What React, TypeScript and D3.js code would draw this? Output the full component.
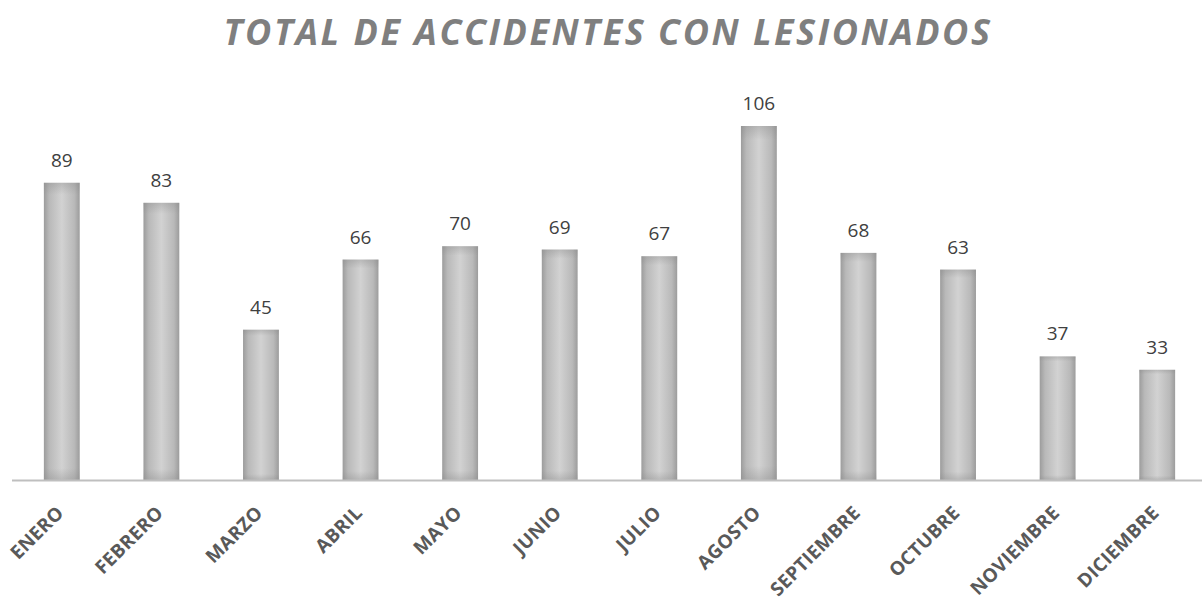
import * as d3 from "d3";

const months = ["ENERO", "FEBRERO", "MARZO", "ABRIL", "MAYO", "JUNIO", "JULIO", "AGOSTO", "SEPTIEMBRE", "OCTUBRE", "NOVIEMBRE", "DICIEMBRE"];
const totals = [89, 83, 45, 66, 70, 69, 67, 106, 68, 63, 37, 33];

const W = 1202;
const H = 602;

export default function App() {
  const baseY = 480;
  const x = d3.scaleBand<string>().domain(months).range([12, 1207]).paddingInner(0.64).paddingOuter(0.32);
  const y = d3.scaleLinear().domain([0, 106]).range([baseY, 126]);

  return (
    <svg width={W} height={H} style={{ position: "absolute", left: 0, top: 0, background: "#fff" }}>
      <defs>
        <linearGradient id="barH" x1="0" x2="1" y1="0" y2="0">
          <stop offset="0" stopColor="#9c9c9c" />
          <stop offset="0.15" stopColor="#b9b9b9" />
          <stop offset="0.5" stopColor="#d2d2d2" />
          <stop offset="0.85" stopColor="#b9b9b9" />
          <stop offset="1" stopColor="#9c9c9c" />
        </linearGradient>
        <linearGradient id="barV" x1="0" x2="0" y1="0" y2="1">
          <stop offset="0" stopColor="#888" stopOpacity="0.35" />
          <stop offset="0.04" stopColor="#888" stopOpacity="0" />
          <stop offset="0.96" stopColor="#888" stopOpacity="0" />
          <stop offset="1" stopColor="#888" stopOpacity="0.35" />
        </linearGradient>
      </defs>
      <text
        x={W / 2 + 7}
        y={45}
        textAnchor="middle"
        fontFamily="'Open Sans', sans-serif"
        fontStyle="italic"
        fontWeight="bold"
        fontSize={36}
        letterSpacing={2.5}
        fill="#7f7f7f"
      >
        TOTAL DE ACCIDENTES CON LESIONADOS
      </text>
      {months.map((m, i) => {
        const bx = x(m)!;
        const by = y(totals[i]);
        const bh = baseY - by;
        return (
          <g key={m}>
            <rect x={bx} y={by} width={x.bandwidth()} height={bh} fill="url(#barH)" />
            <rect x={bx} y={by} width={x.bandwidth()} height={bh} fill="url(#barV)" />
            <text
              x={bx + x.bandwidth() / 2}
              y={by - 16}
              textAnchor="middle"
              fontFamily="'Open Sans', sans-serif"
              fontSize={19}
              fill="#404040"
            >
              {totals[i]}
            </text>
          </g>
        );
      })}
      <line x1={12} x2={W} y1={baseY + 0.5} y2={baseY + 0.5} stroke="#bfbfbf" strokeWidth={2} />
      {months.map((m) => {
        const cx = x(m)! + x.bandwidth() / 2;
        return (
          <text
            key={m}
            transform={`translate(${cx + 3},${baseY + 34}) rotate(-45)`}
            textAnchor="end"
            fontFamily="'Open Sans', sans-serif"
            fontWeight="bold"
            fontSize={19}
            letterSpacing={0.3}
            fill="#595959"
          >
            {m}
          </text>
        );
      })}
    </svg>
  );
}
